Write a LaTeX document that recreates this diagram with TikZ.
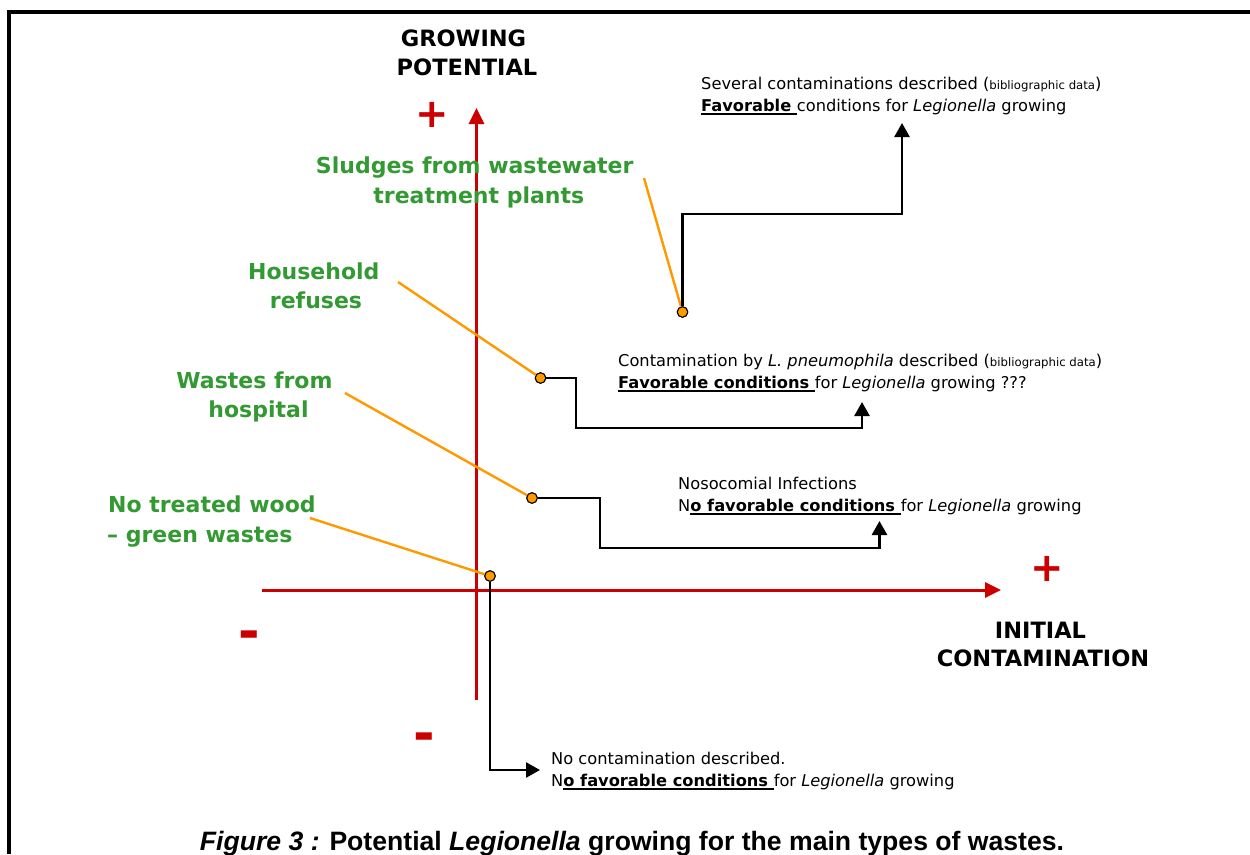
\documentclass[tikz,border=0pt]{standalone}
\usepackage{fontspec}
\setmainfont{DejaVu Sans}
\newfontfamily\capfont{Liberation Sans}
\usetikzlibrary{arrows.meta}
\definecolor{axred}{HTML}{CC0000}
\definecolor{lblgreen}{HTML}{339933}
\definecolor{linorange}{HTML}{FF9900}
\newcommand\ulbx[1]{\leavevmode\setbox0\hbox{#1}\rlap{\rule[-3pt]{\wd0}{1.8pt}}\box0}
\newcommand\smallbib{{\fontsize{11.7}{13}\selectfont bibliographic data}}
\tikzset{
  axis/.style={draw=axred, line width=3pt, -{Triangle[width=15pt,length=16pt]}},
  lead/.style={draw=linorange, line width=2.4pt},
  conn/.style={draw=black, line width=2.6pt, -{Triangle[width=15pt,length=14pt]}},
  dot/.style={circle, draw=black, fill=linorange, line width=1pt, inner sep=0pt, minimum size=10.5pt},
  info/.style={anchor=base west, inner sep=0pt, font=\fontsize{16.25}{22}\selectfont},
  green/.style={anchor=base, inner sep=0pt, text=lblgreen, font=\fontsize{22}{30}\selectfont\bfseries},
  head/.style={anchor=base, inner sep=0pt, font=\fontsize{22.5}{30}\selectfont\bfseries},
  sign/.style={inner sep=0pt, text=axred, font=\fontsize{40}{42}\selectfont\bfseries},
  minus/.style={anchor=base, inner sep=0pt, text=axred, font=\fontsize{52}{54}\selectfont\bfseries},
}
\begin{document}
\begin{tikzpicture}[x=1pt,y=-1pt]
\useasboundingbox (0,0) rectangle (1250,854);
\fill[white] (0,0) rectangle (1250,854);
% frame
\draw[line width=4.5pt, line join=miter] (9,854) -- (9,12) -- (1250,12);

% axes
\coordinate (vb) at (476.5,700);
\coordinate (vt) at (476.5,108);
\coordinate (hl) at (262,590);
\coordinate (hr) at (1001,590);
\draw[axis] (vb) -- (vt);
\draw[axis] (hl) -- (hr);

% signs
\node[sign] (plusy) at (432,115) {+};
\node[sign] (plusx) at (1047,569) {+};
\node[minus] (minx) at (249,649.5) {-};
\node[minus] (miny) at (424,751.5) {-};

% axis titles
\node[head] (gp1) at (463.5,46) {GROWING};
\node[head] (gp2) at (467,75) {POTENTIAL};
\node[head] (ic1) at (1040.5,638) {INITIAL};
\node[head] (ic2) at (1043,666) {CONTAMINATION};

% green labels
\node[green] (sl1) at (474.7,173) {Sludges from wastewater};
\node[green] (sl2) at (478.8,203) {treatment plants};
\node[green] (hh1) at (313.8,279) {Household};
\node[green] (hh2) at (316,308) {refuses};
\node[green] (wh1) at (254.5,388) {Wastes from};
\node[green] (wh2) at (258.5,417) {hospital};
\node[green, anchor=base west] (tw1) at (108,512) {No treated wood};
\node[green, anchor=base west] (tw2) at (107,542) {– green wastes};

% orange leads
\coordinate (o1) at (644,178);
\coordinate (o2) at (398,282);
\coordinate (o3) at (345,393);
\coordinate (o4) at (310,518);
\node[dot] (d1) at (682.5,312) {};
\node[dot] (d2) at (540.5,378) {};
\node[dot] (d3) at (532,498) {};
\node[dot] (d4) at (490,576) {};
\draw[lead] (o1) -- (d1);
\draw[lead] (o2) -- (d2);
\draw[lead] (o3) -- (d3);
\draw[lead] (o4) -- (d4);

% black connectors
\coordinate (a1) at (902,123);
\coordinate (a2) at (862,402);
\coordinate (a3) at (879.5,521);
\coordinate (a4) at (540,770);
\draw[conn] (d1) -- (682.5,214) -| (a1);
\draw[conn] (d2) -- (576,378) -- (576,428) -| (a2);
\draw[conn] (d3) -- (600,498) -- (600,548) -| (a3);
\draw[conn] (d4.south) -- (490,770) -- (a4);
\node[dot] (d1b) at (d1) {};
\node[dot] (d2b) at (d2) {};
\node[dot] (d3b) at (d3) {};
\node[dot] (d4b) at (d4) {};

% info texts
\node[info] (t1a) at (701,89.5) {Several contaminations described (\smallbib)};
\node[info] (t1b) at (701,111.5) {\ulbx{\bfseries Favorable }conditions for \textit{Legionella} growing};
\node[info] (t2a) at (618,366.5) {Contamination by \textit{L. pneumophila} described (\smallbib)};
\node[info] (t2b) at (618,388.5) {\ulbx{\bfseries Favorable conditions }for \textit{Legionella} growing ???};
\node[info] (t3a) at (678,489.5) {Nosocomial Infections};
\node[info] (t3b) at (678,511.5) {N\ulbx{\bfseries o favorable conditions }for \textit{Legionella} growing};
\node[info] (t4a) at (551,764.5) {No contamination described.};
\node[info] (t4b) at (551,786.5) {N\ulbx{\bfseries o favorable conditions }for \textit{Legionella} growing};

% caption
\node[anchor=base, inner sep=0pt, font=\capfont\bfseries\fontsize{26.6}{30}\selectfont] (cap) at (632,850)
  {\textit{Figure 3 :} Potential \textit{Legionella} growing for the main types of wastes.};
\end{tikzpicture}
\end{document}
